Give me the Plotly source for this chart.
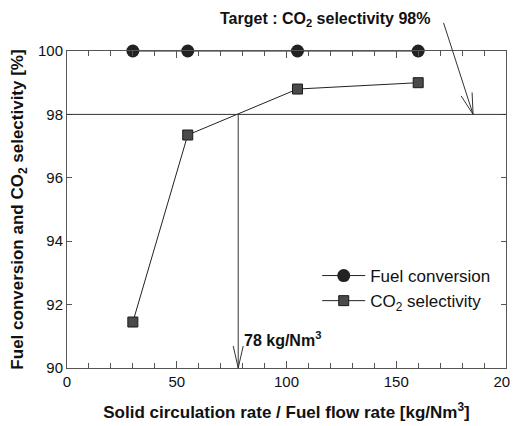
import plotly.graph_objects as go

ratio = [30, 55, 105, 160]
fuel_conversion = [100, 100, 100, 100]
co2_selectivity = [91.45, 97.35, 98.8, 99.0]
target_sel = 98
target_ratio = 78
target_arrow_x = 185
y_min, y_max = 90, 100

FONT = "Liberation Sans, Arial"
INK = "#111111"
LINE = "#333333"

fig = go.Figure()
fig.add_trace(go.Scatter(x=ratio, y=fuel_conversion, mode="lines+markers",
                         name="Fuel conversion", cliponaxis=False,
                         line=dict(color="#222222", width=1),
                         marker=dict(symbol="circle", size=13, color="#222222")))
fig.add_trace(go.Scatter(x=ratio, y=co2_selectivity, mode="lines+markers",
                         name="CO<sub>2</sub> selectivity", cliponaxis=False,
                         line=dict(color="#222222", width=1),
                         marker=dict(symbol="square", size=10, color="#4a4a4a",
                                     line=dict(color="#1a1a1a", width=1))))

# target horizontal line
fig.add_shape(type="line", xref="paper", yref="y", x0=0, x1=1, y0=target_sel, y1=target_sel,
              line=dict(color=LINE, width=1))

# vertical line down to the x axis with open V arrowhead
fig.add_shape(type="line", xref="x", yref="y", x0=target_ratio, x1=target_ratio,
              y0=target_sel, y1=y_min, line=dict(color=LINE, width=1))
fig.add_shape(type="path", xref="x", yref="y", xsizemode="pixel", ysizemode="pixel",
              xanchor=target_ratio, yanchor=y_min, path="M -5,22 L 0,0 L 5,22",
              line=dict(color=LINE, width=1))
fig.add_annotation(x=target_ratio + 1.5, y=90.9, xref="x", yref="y", xanchor="left",
                   text="<b>78 kg/Nm<sup>3</sup></b>", showarrow=False,
                   font=dict(family=FONT, size=16, color=INK))

# target text arrow
fig.add_annotation(x=target_arrow_x, y=target_sel, xref="x", yref="y",
                   ax=-30, ay=-93, showarrow=True, arrowhead=0,
                   arrowwidth=1, arrowcolor=LINE, text="")
fig.add_shape(type="path", xref="x", yref="y", xsizemode="pixel", ysizemode="pixel",
              xanchor=target_arrow_x, yanchor=target_sel, path="M -1,22 L 0,0 L -12,18.5",
              line=dict(color=LINE, width=1))
fig.add_annotation(x=0.587, y=1.135, xref="paper", yref="paper", xanchor="center",
                   yanchor="top", showarrow=False,
                   text="<b>Target : CO<sub>2</sub> selectivity 98%</b>",
                   font=dict(family=FONT, size=16, color=INK))

axis_common = dict(showline=True, linecolor="#555555", linewidth=1, mirror="allticks",
                   ticks="inside", tickcolor="#555555", showgrid=False, zeroline=False,
                   automargin=False, ticklabeloverflow="allow",
                   tickfont=dict(family=FONT, size=15, color=INK))

fig.update_xaxes(range=[0, 200], tick0=0, dtick=50, ticklen=7,
                 minor=dict(dtick=10, ticks="inside", ticklen=5, tickcolor="#555555"),
                 title=dict(text="<b>Solid circulation rate / Fuel flow rate [kg/Nm<sup>3</sup>]</b>",
                            font=dict(family=FONT, size=17, color=INK), standoff=17),
                 **axis_common)
fig.update_yaxes(range=[y_min, y_max], tick0=90, dtick=2, ticklen=5,
                 title=dict(text="<b>Fuel conversion and CO<sub>2</sub> selectivity [%]</b>",
                            font=dict(family=FONT, size=17, color=INK), standoff=10),
                 **axis_common)

fig.update_layout(width=510, height=418, margin=dict(l=59, r=12, t=43, b=58),
                  paper_bgcolor="white", plot_bgcolor="white", showlegend=True,
                  legend=dict(x=0.57, y=0.347, xanchor="left", yanchor="top",
                              bgcolor="rgba(0,0,0,0)", tracegroupgap=0, itemwidth=43,
                              font=dict(family=FONT, size=17, color=INK)))
fig.write_html("out.html")
